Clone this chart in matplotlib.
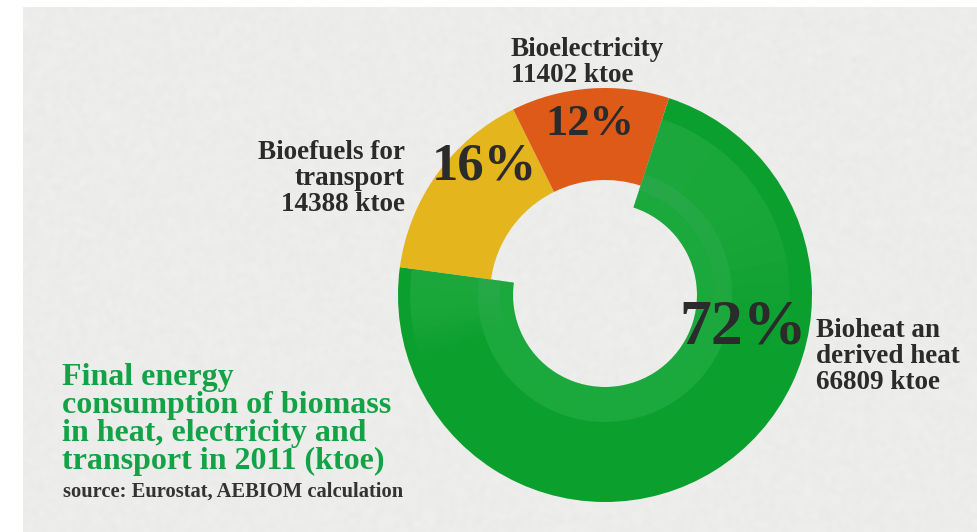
import numpy as np
import matplotlib.pyplot as plt
from matplotlib.patches import Wedge

W, H = 978, 532

# biomass final energy use, 2011 (ktoe)
sectors = ['Bioheat an\nderived heat', 'Bioefuels for\ntransport', 'Bioelectricity']
ktoe = [66809, 14388, 11402]
colors = ['#0b9f2d', '#e4b51d', '#dd5a18']

title_lines = ['Final energy', 'consumption of biomass',
               'in heat, electricity and', 'transport in 2011 (ktoe)']
source = 'source: Eurostat, AEBIOM calculation'

total = sum(ktoe)
pct = [round(100 * v / total) for v in ktoe]

INK = '#2b2b2b'
GREEN_TXT = '#13a346'
SERIF = dict(family='Liberation Serif', weight='bold')


def Y(py):
    # image rows run downwards, data y runs upwards
    return H - py


fig = plt.figure(figsize=(W / 100, H / 100), dpi=100, facecolor='white')
ax = fig.add_axes([0, 0, 1, 1])

# paper sheet with a little grain
rng = np.random.default_rng(7)
grain = rng.normal(size=(260, 480))
k = np.ones(3) / 3
for axis in (0, 1):
    grain = np.apply_along_axis(lambda r: np.convolve(r, k, mode='same'), axis, grain)
paper = np.array([0.928, 0.928, 0.921]) + 0.012 * grain[..., None]
ax.imshow(np.clip(paper, 0, 1), extent=(23, W, 0, H - 7),
          interpolation='bicubic', aspect='auto', zorder=0)

# donut
cx, cy = 605, Y(295)
r_out = 207
wedges, _ = ax.pie(ktoe, colors=colors, startangle=72, counterclock=False,
                   radius=r_out, center=(cx, cy),
                   wedgeprops=dict(width=115, linewidth=0, zorder=2))
for w in wedges[1:]:
    w.set_width(92)

# lighter brush strokes on the green ring, fading towards the bottom
g = wedges[0]
light = '#42be60'
ax.add_patch(Wedge((cx, cy), r_out - 80, g.theta1, g.theta2, width=35,
                   color=light, alpha=0.3, lw=0, zorder=3))
for i in range(12):
    ax.add_patch(Wedge((cx, cy), r_out - 22, g.theta2 - 12 - 7 * i, g.theta2,
                       width=75, color=light, alpha=0.045, lw=0, zorder=3))
    ax.add_patch(Wedge((cx, cy), r_out - 12, g.theta1, g.theta1 + 4 + 2 * i,
                       width=90, color=light, alpha=0.045, lw=0, zorder=3))

# percentages
ax.text(679, Y(343), f'{pct[0]}%', fontsize=46, color=INK, va='baseline', zorder=5, **SERIF)
ax.text(432, Y(180), f'{pct[1]}%', fontsize=38, color=INK, va='baseline', zorder=5, **SERIF)
ax.text(545, Y(135), f'{pct[2]}%', fontsize=32, color=INK, va='baseline', zorder=5, **SERIF)

# category labels
lab = dict(fontsize=19.5, color=INK, va='baseline', zorder=5, **SERIF)
heat = sectors[0].split('\n') + [f'{ktoe[0]} ktoe']
for i, line in enumerate(heat):
    ax.text(816, Y(337 + 26 * i), line, ha='left', **lab)
fuels = sectors[1].split('\n') + [f'{ktoe[1]} ktoe']
for i, line in enumerate(fuels):
    ax.text(405, Y(159 + 26 * i), line, ha='right', **lab)
elec = [sectors[2], f'{ktoe[2]} ktoe']
for i, line in enumerate(elec):
    ax.text(511, Y(56 + 26 * i), line, ha='left', **lab)

# title block
for i, line in enumerate(title_lines):
    ax.text(62, Y(385 + 28 * i), line, fontsize=23, color=GREEN_TXT,
            va='baseline', zorder=5, **SERIF)
ax.text(63, Y(497), source, fontsize=14.8, color='#333333', va='baseline', zorder=5, **SERIF)

ax.set_aspect('auto')
ax.set_xlim(0, W)
ax.set_ylim(0, H)
ax.axis('off')

fig.savefig('out.png', dpi=100, facecolor='white')
